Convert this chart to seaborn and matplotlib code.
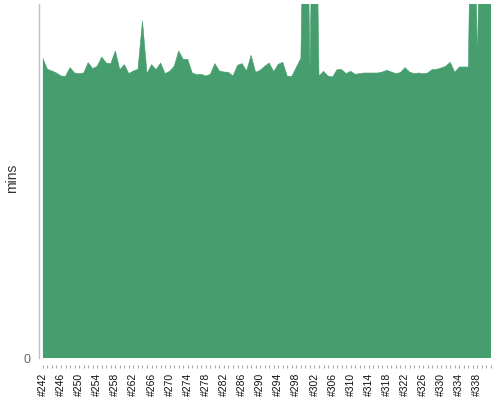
import matplotlib
matplotlib.use("Agg")
import matplotlib.pyplot as plt
import seaborn as sns
import numpy as np
import pandas as pd
from matplotlib.ticker import MultipleLocator

# build numbers #242 .. #341
builds = list(range(242, 342))

# build duration in minutes (spikes run past the top of the axes)
mins = [
    29.97, 28.90, 28.73, 28.53, 28.23, 28.20, 29.07, 28.53, 28.47, 28.53,
    29.57, 28.97, 29.20, 30.13, 29.53, 29.47, 30.73, 28.87, 29.37, 28.47,
    28.73, 28.90, 33.73, 28.47, 29.37, 28.87, 29.53, 28.47, 28.70, 29.20,
    30.73, 29.90, 29.90, 28.53, 28.37, 28.40, 28.23, 28.40, 29.47, 28.73,
    28.63, 28.60, 28.23, 29.30, 29.47, 28.73, 30.30, 28.60, 28.80, 29.20,
    29.53, 28.67, 29.40, 29.60, 28.20, 28.20, 29.10, 30.00, 60.0, 28.80,
    60.0, 28.23, 28.70, 28.23, 28.13, 28.87, 28.87, 28.47, 28.70, 28.40,
    28.47, 28.53, 28.53, 28.53, 28.53, 28.63, 28.80, 28.63, 28.47, 28.57,
    29.07, 28.63, 28.47, 28.53, 28.47, 28.53, 28.87, 28.90, 29.03, 29.20,
    29.60, 28.60, 29.13, 29.13, 29.13, 60.0, 29.13, 60.0, 60.0, 60.0,
]

# labelled builds (every fourth)
tick_builds = list(range(242, 342, 4))
tick_labels = [f"#{b}" for b in tick_builds]

df = pd.DataFrame({"build": builds, "mins": mins})

sns.set_theme(style="white")
plt.rcParams["font.family"] = ["Liberation Sans", "DejaVu Sans"]

GREEN = "#469d6d"

fig = plt.figure(figsize=(5, 4), dpi=100)
ax = fig.add_axes([39.3 / 500, 1 - 358.3 / 400, (491 - 39.3) / 500, (358.3 - 4) / 400])

ax.fill_between(df["build"], 0, df["mins"], color=GREEN, linewidth=0, zorder=2)
sns.lineplot(data=df, x="build", y="mins", ax=ax, color=GREEN, linewidth=0.4, zorder=3)

ax.set_xlim(241.2, 341)
ax.set_ylim(0, 35.43)

ax.set_xticks(tick_builds)
ax.set_xticklabels(tick_labels)
ax.xaxis.set_minor_locator(MultipleLocator(1))
ax.set_yticks([0])
ax.set_yticklabels(["0"])

ax.tick_params(axis="x", which="both", direction="out", length=2.5, width=0.8,
               color="#aaaaaa", bottom=True)
ax.tick_params(axis="x", which="major", labelsize=7.5, labelcolor="#111111",
               pad=3, labelrotation=90)
ax.tick_params(axis="y", length=0, labelsize=9, labelcolor="#666666", pad=6)

for s in ["top", "right"]:
    ax.spines[s].set_visible(False)
ax.spines["bottom"].set_position(("outward", 5))
ax.spines["bottom"].set_color("none")
ax.spines["left"].set_color("#c0c0c0")
ax.spines["left"].set_linewidth(1.0)

ax.set_xlabel("")
ax.set_ylabel("")
fig.text(12.5 / 500, 1 - 178 / 400, "mins", rotation=90, ha="center", va="center",
         fontsize=10, color="#333333")
ax.grid(False)
ax.set_facecolor("white")

fig.savefig("out.png", dpi=100)
